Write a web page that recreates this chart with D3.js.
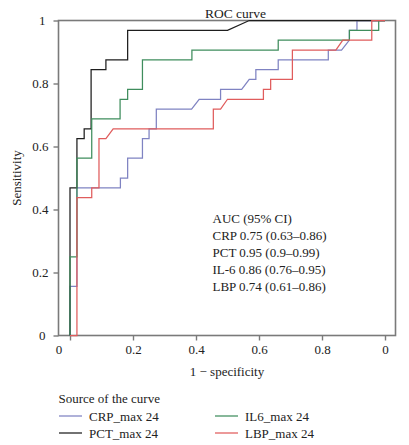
<!DOCTYPE html>
<html>
<head>
<meta charset="utf-8">
<script src="https://cdn.jsdelivr.net/npm/d3@7"></script>
<style>
  html, body { margin: 0; padding: 0; background: #fff; }
  svg { display: block; font-family: "Liberation Serif", "DejaVu Serif", serif; }
</style>
</head>
<body>
<svg id="chart" width="409" height="445"></svg>
<script>
// ---- data (fpr = 1 - specificity, tpr = sensitivity) ----
const seriesNames = ["CRP_max 24", "PCT_max 24", "IL6_max 24", "LBP_max 24"];
const seriesColors = ["#7f83c2", "#1e1e1e", "#3f8d5d", "#e05c5c"];

const crpFpr = [0, 0, 0.022, 0.022, 0.16, 0.16, 0.183, 0.183, 0.23, 0.23, 0.251, 0.251, 0.274, 0.274, 0.386, 0.41, 0.478, 0.478, 0.545, 0.569, 0.59, 0.59, 0.661, 0.661, 0.82, 0.82, 0.862, 0.887, 0.887, 0.911, 0.911, 1];
const crpTpr = [0, 0.156, 0.156, 0.469, 0.469, 0.5, 0.5, 0.563, 0.563, 0.625, 0.625, 0.656, 0.656, 0.719, 0.719, 0.75, 0.75, 0.781, 0.781, 0.813, 0.813, 0.844, 0.844, 0.875, 0.875, 0.906, 0.906, 0.938, 0.969, 0.969, 1, 1];

const pctFpr = [0, 0, 0.022, 0.022, 0.045, 0.045, 0.067, 0.067, 0.114, 0.114, 0.183, 0.183, 0.5, 0.569, 1];
const pctTpr = [0, 0.469, 0.469, 0.625, 0.625, 0.656, 0.656, 0.844, 0.844, 0.875, 0.875, 0.969, 0.969, 1, 1];

const il6Fpr = [0, 0, 0.022, 0.022, 0.069, 0.069, 0.159, 0.159, 0.183, 0.183, 0.23, 0.23, 0.387, 0.387, 0.661, 0.661, 0.887, 0.887, 0.98, 0.98, 1];
const il6Tpr = [0, 0.25, 0.25, 0.563, 0.563, 0.688, 0.688, 0.75, 0.75, 0.781, 0.781, 0.875, 0.875, 0.906, 0.906, 0.938, 0.938, 0.969, 0.969, 1, 1];

const lbpFpr = [0, 0.022, 0.022, 0.069, 0.069, 0.092, 0.092, 0.114, 0.137, 0.455, 0.455, 0.478, 0.5, 0.614, 0.614, 0.637, 0.637, 0.706, 0.706, 0.844, 0.866, 0.958, 0.958, 1];
const lbpTpr = [0, 0, 0.438, 0.438, 0.469, 0.469, 0.625, 0.625, 0.656, 0.656, 0.719, 0.719, 0.75, 0.75, 0.781, 0.781, 0.813, 0.813, 0.906, 0.906, 0.938, 0.938, 1, 1];

const xTicks = [0, 0.2, 0.4, 0.6, 0.8, 1];
const xTickLabels = ["0", "0.2", "0.4", "0.6", "0.8", "0"];
const yTicks = [0, 0.2, 0.4, 0.6, 0.8, 1];
const yTickLabels = ["0", "0.2", "0.4", "0.6", "0.8", "1"];

const aucLines = ["AUC (95% CI)", "CRP 0.75 (0.63–0.86)", "PCT 0.95 (0.9–0.99)", "IL-6 0.86 (0.76–0.95)", "LBP 0.74 (0.61–0.86)"];
const titleText = "ROC curve";
const xLabel = "1 − specificity";
const yLabel = "Sensitivity";
const legendTitle = "Source of the curve";

// ---- layout ----
const svg = d3.select("#chart");
const frame = { left: 58.5, right: 395.5, top: 20.5, bottom: 335.5 };
const x = d3.scaleLinear().domain([0, 1]).range([70, 385]);
const y = d3.scaleLinear().domain([0, 1]).range([frame.bottom, frame.top]);
const axisColor = "#7a7a7a";
const fontSize = 13;

// frame
svg.append("rect")
  .attr("x", frame.left).attr("y", frame.top)
  .attr("width", frame.right - frame.left).attr("height", frame.bottom - frame.top)
  .attr("fill", "none").attr("stroke", axisColor).attr("stroke-width", 1.6);

// x axis
const xAxis = d3.axisBottom(x).tickValues(xTicks).tickSize(5).tickPadding(4)
  .tickFormat((d, i) => xTickLabels[i]);
const gx = svg.append("g").attr("transform", `translate(0,${frame.bottom})`).call(xAxis);
gx.select(".domain").remove();
gx.selectAll(".tick line").attr("stroke", axisColor).attr("stroke-width", 1.4);
gx.selectAll(".tick text").attr("fill", "#222").attr("font-size", fontSize)
  .attr("font-family", "Liberation Serif, serif")
  .attr("dx", (d, i) => i === 0 ? -11.5 : 0);

// y axis
const yAxis = d3.axisLeft(y).tickValues(yTicks).tickSize(5).tickPadding(5)
  .tickFormat((d, i) => yTickLabels[i]);
const gy = svg.append("g").attr("transform", `translate(${frame.left},0)`).call(yAxis);
gy.select(".domain").remove();
gy.selectAll(".tick line").attr("stroke", axisColor).attr("stroke-width", 1.4);
gy.selectAll(".tick text").attr("fill", "#222").attr("font-size", fontSize)
  .attr("font-family", "Liberation Serif, serif")
  .attr("dx", (d, i) => (i === 0 || i === 5) ? -3 : 0);

// curves
const seriesData = [
  d3.zip(crpFpr, crpTpr),
  d3.zip(pctFpr, pctTpr),
  d3.zip(il6Fpr, il6Tpr),
  d3.zip(lbpFpr, lbpTpr)
];
const line = d3.line().x(d => x(d[0])).y(d => y(d[1]));
svg.append("g").selectAll("path").data(seriesData).join("path")
  .attr("d", line)
  .attr("fill", "none")
  .attr("stroke", (d, i) => seriesColors[i])
  .attr("stroke-width", 1.25);

// title
svg.append("text").attr("x", 235.5).attr("y", 17.5).attr("text-anchor", "middle")
  .attr("font-size", fontSize + 0.5).attr("fill", "#222").text(titleText);

// axis labels
svg.append("text").attr("x", 227).attr("y", 375.5).attr("text-anchor", "middle")
  .attr("font-size", fontSize).attr("fill", "#222").text(xLabel);
svg.append("text").attr("transform", "translate(21,178) rotate(-90)").attr("text-anchor", "middle")
  .attr("font-size", fontSize).attr("fill", "#222").text(yLabel);

// AUC annotation
svg.append("g").selectAll("text").data(aucLines).join("text")
  .attr("x", 212.5).attr("y", (d, i) => 222.5 + i * 17.2)
  .attr("font-size", fontSize).attr("fill", "#222").text(d => d);

// legend
svg.append("text").attr("x", 58.5).attr("y", 402.5).attr("font-size", fontSize)
  .attr("fill", "#222").text(legendTitle);
const legendPos = [[59, 416], [59, 433], [215, 416], [215, 433]];
const lg = svg.append("g").selectAll("g").data(seriesNames).join("g")
  .attr("transform", (d, i) => `translate(${legendPos[i][0]},${legendPos[i][1]})`);
lg.append("line").attr("x1", 0).attr("x2", 23).attr("y1", 0).attr("y2", 0)
  .attr("stroke", (d, i) => seriesColors[i]).attr("stroke-width", 1.25);
lg.append("text").attr("x", 30).attr("y", 4.5).attr("font-size", fontSize)
  .attr("fill", "#222").text(d => d);
</script>
</body>
</html>
